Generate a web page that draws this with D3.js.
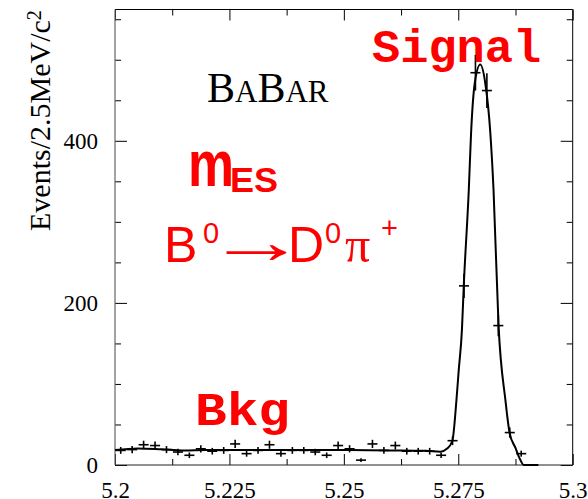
<!DOCTYPE html>
<html><head><meta charset="utf-8">
<script src="https://cdn.jsdelivr.net/npm/d3@7"></script>
<style>body{margin:0;background:#fff} svg{display:block}</style>
</head><body>
<script>
// ---- data ----
const binCenters = [5.20125,5.20375,5.20625,5.20875,5.21125,5.21375,5.21625,5.21875,5.22125,5.22375,
  5.22625,5.22875,5.23125,5.23375,5.23625,5.23875,5.24125,5.24375,5.24625,5.24875,
  5.25125,5.25375,5.25625,5.25875,5.26125,5.26375,5.26625,5.26875,5.27125,5.27375,
  5.27625,5.27875,5.28125,5.28375,5.28625,5.28875,5.29125,5.29375,5.29625,5.29875];
const counts = [18,19,25,24,19,16,12,20,17,18,
  26,14,18,25,14,18,18,16,12,24,
  20,6,26,18,24,17,17,17,12,30,
  221,484,462,172,40,14,0,0,0,0];
const binHalfWidth = 0.00125;
const fitX = [5.2000,5.2050,5.2100,5.2150,5.2200,5.2300,5.2400,5.2500,5.2600,5.2680,5.2711,
  5.2725,5.2737,5.2746,5.2751,5.2758,5.2762,5.2773,5.2778,5.2786,5.2798,5.2809,5.2820,
  5.2827,5.2838,5.2853,5.2862,5.2875,5.2885,5.2893,5.2925];
const fitY = [18.5,20.5,19.5,18,18.5,18.5,18.5,18.5,18,17.5,16.5,
  20,29.6,80,117,167,221,340,410,471,494,471,410,
  340,172,80,40,21,7,0,0];
const xMinorTicks = [5.2125,5.2375,5.2625,5.2875];
const xMajorTicks = [5.2,5.225,5.25,5.275,5.3];
const xTickLabels = ["5.2","5.225","5.25","5.275","5.3"];
const yMinorTicks = [50,100,150,250,300,350,450,500,550];
const yMajorTicks = [0,200,400];
const yTickLabels = ["0","200","400"];

// ---- layout ----
const W = 588, H = 499;
const m = {left:115, top:9.5, right:15.3, bottom:34};
const iw = W - m.left - m.right, ih = H - m.top - m.bottom;
const svg = d3.select("body").append("svg").attr("width",W).attr("height",H);
const g = svg.append("g").attr("transform",`translate(${m.left},${m.top})`);
const x = d3.scaleLinear().domain([5.2,5.3]).range([0,iw]);
const y = d3.scaleLinear().domain([0,562]).range([ih,0]);
const serif = "'Liberation Serif','Times New Roman',serif";

function styleAxis(sel){
  sel.select(".domain").remove();
  sel.selectAll(".tick line").attr("stroke","#000").attr("stroke-width",1);
  sel.selectAll(".tick text").attr("font-family",serif).attr("font-size",23).attr("fill","#000");
}
const labX = d => xTickLabels[xMajorTicks.indexOf(d)];
const labY = d => yTickLabels[yMajorTicks.indexOf(d)];
// bottom
g.append("g").attr("transform",`translate(0,${ih})`)
  .call(d3.axisBottom(x).tickValues(xMinorTicks).tickSize(-6).tickFormat("")).call(styleAxis);
g.append("g").attr("transform",`translate(0,${ih})`)
  .call(d3.axisBottom(x).tickValues(xMajorTicks).tickSize(-11).tickPadding(16.5).tickFormat(labX)).call(styleAxis);
// top
g.append("g").call(d3.axisTop(x).tickValues(xMinorTicks).tickSize(-6).tickFormat("")).call(styleAxis);
g.append("g").call(d3.axisTop(x).tickValues(xMajorTicks).tickSize(-11).tickFormat("")).call(styleAxis);
// left
g.append("g").call(d3.axisLeft(y).tickValues(yMinorTicks).tickSize(-6).tickFormat("")).call(styleAxis);
g.append("g").call(d3.axisLeft(y).tickValues(yMajorTicks).tickSize(-12).tickPadding(17).tickFormat(labY)).call(styleAxis);
// right
g.append("g").attr("transform",`translate(${iw},0)`)
  .call(d3.axisRight(y).tickValues(yMinorTicks).tickSize(-6).tickFormat("")).call(styleAxis);
g.append("g").attr("transform",`translate(${iw},0)`)
  .call(d3.axisRight(y).tickValues(yMajorTicks).tickSize(-12).tickFormat("")).call(styleAxis);

// frame
g.append("line").attr("x1",0).attr("x2",iw).attr("y1",0).attr("y2",0).attr("stroke","#000");
g.append("line").attr("x1",iw).attr("x2",iw).attr("y1",0).attr("y2",ih).attr("stroke","#000");
g.append("line").attr("x1",0).attr("x2",iw).attr("y1",ih).attr("y2",ih).attr("stroke","#222");
g.append("line").attr("x1",0).attr("x2",0).attr("y1",0).attr("y2",ih).attr("stroke","#666").attr("stroke-width",1.2);

// fit curve
const line = d3.line().x((d,i)=>x(fitX[i])).y((d,i)=>y(fitY[i])).curve(d3.curveMonotoneX);
g.append("path").datum(fitX).attr("d",line).attr("fill","none").attr("stroke","#000").attr("stroke-width",2);

// data points
const pts = binCenters.map((c,i)=>({c, n:counts[i]})).filter(d=>d.n>0);
const pg = g.append("g").attr("stroke","#000").attr("stroke-width",1.6);
pg.selectAll(".h").data(pts).join("line")
  .attr("x1",d=>x(d.c-binHalfWidth)+0.7).attr("x2",d=>x(d.c+binHalfWidth)-0.7)
  .attr("y1",d=>y(d.n)).attr("y2",d=>y(d.n));
pg.selectAll(".v").data(pts).join("line")
  .attr("x1",d=>x(d.c)).attr("x2",d=>x(d.c))
  .attr("y1",d=>y(d.n+Math.sqrt(d.n))).attr("y2",d=>y(Math.max(0,d.n-Math.sqrt(d.n))));

// y label
const yl = svg.append("text").attr("transform","translate(50,231) rotate(-90)")
  .attr("font-family",serif).attr("font-size",30).attr("fill","#000");
yl.append("tspan").text("Events/2.5MeV/c");
yl.append("tspan").attr("dy","-0.45em").attr("font-size",20).text("2");

// BaBar logo
const bb = svg.append("text").attr("x",207).attr("y",101.7).attr("font-family",serif).attr("fill","#000");
bb.append("tspan").attr("font-size",42).text("B");
bb.append("tspan").attr("font-size",31).text("A");
bb.append("tspan").attr("font-size",42).text("B");
bb.append("tspan").attr("font-size",31).text("AR");

const red = "#ff0000", sans = "'Liberation Sans',Arial,sans-serif", mono = "'Liberation Mono','Courier New',monospace";
// m_ES
svg.append("text").attr("x",188).attr("y",186).attr("font-family",sans).attr("font-weight","bold")
  .attr("font-size",64).attr("fill",red).attr("textLength",46).attr("lengthAdjust","spacingAndGlyphs").text("m");
svg.append("text").attr("x",230).attr("y",192).attr("font-family",sans).attr("font-weight","bold")
  .attr("font-size",35).attr("fill",red).attr("textLength",48).attr("lengthAdjust","spacingAndGlyphs").text("ES");

// decay
const dec = (t,xx,yy,fs,fam) => svg.append("text").attr("x",xx).attr("y",yy)
  .attr("font-family",fam).attr("font-size",fs).attr("fill",red).text(t);
dec("B",164,262,50,sans);
dec("0",203,243,29,sans);
svg.append("text").attr("transform","translate(206,263) scale(1.68,1.05)")
  .attr("font-family",sans).attr("font-size",60).attr("fill",red).text("\u2192");
dec("D",288,262,50,sans);
dec("0",325,243,29,sans);
dec("\u03C0",345,262,50,serif);
dec("+",381,238,29,sans);

// Signal / Bkg
svg.append("text").attr("x",372).attr("y",62).attr("font-family",mono).attr("font-weight","bold")
  .attr("font-size",47).attr("fill",red).text("Signal");
svg.append("text").attr("x",195).attr("y",425).attr("font-family",mono).attr("font-weight","bold")
  .attr("font-size",46).attr("fill",red).attr("textLength",95).attr("lengthAdjust","spacingAndGlyphs").text("Bkg");
</script>
</body></html>
